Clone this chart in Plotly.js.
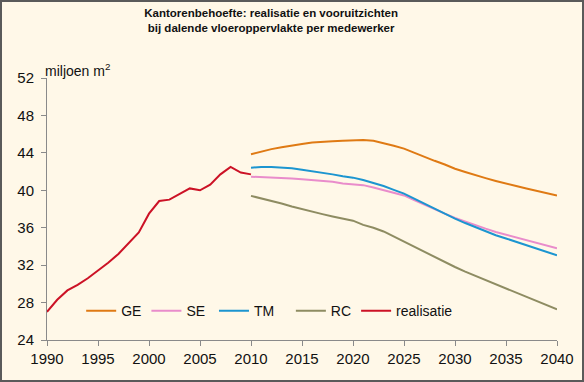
<!DOCTYPE html>
<html>
<head>
<meta charset="utf-8">
<script src="https://cdn.plot.ly/plotly-3.0.1.min.js"></script>
<style>
  html, body { margin: 0; padding: 0; background: #ffffff; }
  #frame { width: 584px; height: 382px; box-sizing: border-box; border: 2px solid #5a5a5a; background: #FFF8E8; }
  #chart { width: 580px; height: 378px; }
</style>
</head>
<body>
<div id="frame"><div id="chart"></div></div>
<script>
// Realisatie (historical)
const yearsReal = [1990,1991,1992,1993,1994,1995,1996,1997,1998,1999,2000,2001,2002,2003,2004,2005,2006,2007,2008,2009,2010];
const realisatie = [27.0,28.3,29.3,29.9,30.6,31.4,32.25,33.2,34.4,35.5,37.5,38.85,39.0,39.6,40.2,40.0,40.6,41.7,42.5,41.9,41.7];

// Scenarios (projections)
const yearsProj = [2010,2011,2012,2013,2014,2015,2016,2017,2018,2019,2020,2021,2022,2023,2024,2025,2026,2027,2028,2029,2030,2031,2032,2033,2034,2035,2036,2037,2038,2039,2040];
const GE = [43.85,44.15,44.4,44.6,44.8,44.95,45.1,45.2,45.25,45.3,45.33,45.38,45.3,45.05,44.75,44.45,44.0,43.6,43.15,42.75,42.3,41.95,41.6,41.3,41.0,40.7,40.45,40.2,39.95,39.7,39.45];
const SE = [41.45,41.42,41.38,41.35,41.25,41.17,41.1,41.0,40.9,40.72,40.62,40.55,40.3,40.0,39.75,39.45,38.95,38.45,37.98,37.5,37.05,36.65,36.25,35.9,35.55,35.25,34.95,34.65,34.35,34.05,33.8];
const TM = [42.4,42.5,42.5,42.45,42.35,42.2,42.05,41.9,41.7,41.5,41.35,41.1,40.8,40.45,40.05,39.65,39.1,38.55,38.0,37.5,36.98,36.5,36.05,35.6,35.2,34.85,34.5,34.1,33.75,33.4,33.05];
const RC = [39.4,39.15,38.85,38.58,38.27,37.97,37.7,37.45,37.2,36.95,36.75,36.3,36.0,35.6,35.05,34.5,33.95,33.4,32.85,32.3,31.8,31.3,30.85,30.4,29.95,29.5,29.05,28.6,28.15,27.7,27.27];

const seriesNames = ['GE', 'SE', 'TM', 'RC', 'realisatie'];
const xTicks = [1990,1995,2000,2005,2010,2015,2020,2025,2030,2035,2040];
const yTicks = [24,28,32,36,40,44,48,52];

const FONT = '"Liberation Sans", Arial, sans-serif';
const NB = '\u00a0';

const traces = [
  {x: yearsProj, y: GE, name: seriesNames[0], mode: 'lines', line: {color: '#DF7A14', width: 2}},
  {x: yearsProj, y: SE, name: seriesNames[1] + NB, mode: 'lines', line: {color: '#E98CCB', width: 2}},
  {x: yearsProj, y: TM, name: seriesNames[2] + NB + NB + NB, mode: 'lines', line: {color: '#1C95D0', width: 2}},
  {x: yearsProj, y: RC, name: seriesNames[3], mode: 'lines', line: {color: '#8E8C62', width: 2}},
  {x: yearsReal, y: realisatie, name: seriesNames[4], mode: 'lines', line: {color: '#CC1226', width: 2}}
];

const layout = {
  width: 580, height: 378,
  paper_bgcolor: '#FFF8E8', plot_bgcolor: '#FFF8E8',
  margin: {l: 44.7, r: 25.3, t: 75.5, b: 40},
  font: {family: FONT, size: 15, color: '#111'},
  title: {
    text: '<b>Kantorenbehoefte: realisatie en vooruitzichten<br>bij dalende vloeroppervlakte per medewerker</b>',
    font: {family: FONT, size: 11.5, color: '#111'},
    x: 0.464, xanchor: 'center', xref: 'container',
    y: 0.96, yanchor: 'top', yref: 'container'
  },
  xaxis: {
    range: [1990, 2040], tickvals: xTicks, ticktext: xTicks.map(String),
    showgrid: false, zeroline: false, showline: true, linecolor: '#8a8a8a', linewidth: 1,
    ticks: 'outside', ticklen: 5, tickcolor: '#8a8a8a',
    tickfont: {family: FONT, size: 15, color: '#111'}
  },
  yaxis: {
    range: [24, 52], tickvals: yTicks, ticktext: yTicks.map(String),
    showgrid: false, zeroline: false, showline: true, linecolor: '#8a8a8a', linewidth: 1,
    ticks: 'outside', ticklen: 5, tickcolor: '#8a8a8a', ticklabelstandoff: 4,
    tickfont: {family: FONT, size: 15, color: '#111'}
  },
  showlegend: true,
  legend: {
    orientation: 'h', x: 0.067, xanchor: 'left', y: 0.11, yanchor: 'middle',
    bgcolor: 'rgba(0,0,0,0)', font: {family: FONT, size: 14, color: '#111'},
    itemwidth: 30, traceorder: 'normal'
  },
  annotations: [{
    text: 'miljoen m<sup>2</sup>', xref: 'paper', yref: 'paper',
    x: -0.007, y: 1.032, xanchor: 'left', yanchor: 'middle', showarrow: false,
    font: {family: FONT, size: 14, color: '#111'}
  }]
};

Plotly.newPlot('chart', traces, layout, {displayModeBar: false, staticPlot: true});
</script>
</body>
</html>
